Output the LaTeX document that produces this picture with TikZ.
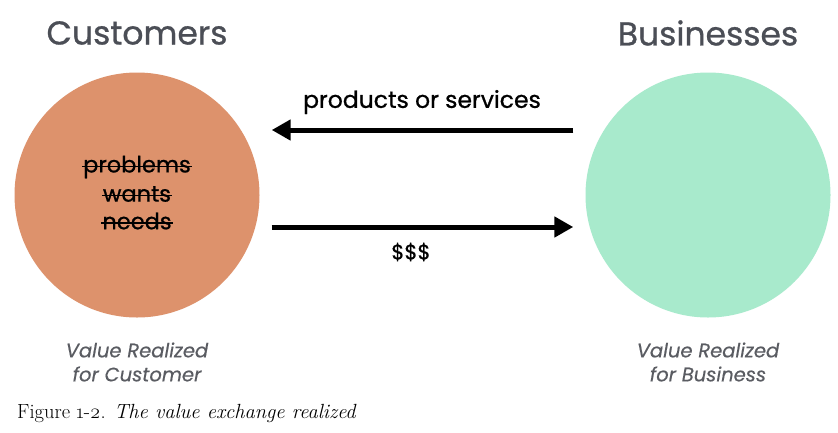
\documentclass[tikz,border=0pt]{standalone}
\usepackage{fontspec}
\setmainfont{Latin Modern Roman}
\newfontfamily\gfont[FakeBold=0.8]{Poppins}
\newfontfamily\gfontl[FakeBold=0.4]{Poppins}
\usetikzlibrary{arrows.meta}
\definecolor{custorange}{RGB}{221,146,108}
\definecolor{busgreen}{RGB}{168,234,204}
\definecolor{titlegray}{RGB}{75,78,86}
\definecolor{subgray}{RGB}{90,92,98}
\tikzset{
  bigcircle/.style={circle, minimum size=245pt, inner sep=0pt},
  title/.style={font=\gfont\fontsize{33}{36}\selectfont, text=titlegray},
  flowlabel/.style={font=\gfont\fontsize{23.5}{26}\selectfont, text=black},
  dollar/.style={font=\gfont\fontsize{21}{24}\selectfont, text=black},
  struck/.style={font=\gfont\fontsize{22.5}{24}\selectfont, text=black, inner sep=1pt},
  valuelabel/.style={font=\gfontl\itshape\fontsize{19.5}{24}\selectfont, text=subgray, align=center},
  flowarrow/.style={line width=5pt, -{Triangle[length=19pt,width=20pt]}, shorten >=12pt, shorten <=12pt},
  strike/.style={line width=1.6pt}
}
\begin{document}
\begin{tikzpicture}[x=1pt,y=-1pt]
\useasboundingbox[fill=white] (0,0) rectangle (838,432);
\node[bigcircle, fill=custorange] (cust) at (137,195) {};
\node[bigcircle, fill=busgreen] (bus) at (708,195) {};
\node[title] (tc) at (137,33) {Customers};
\node[title] (tb) at (708,33) {Businesses};
\draw[flowarrow] ([yshift=65pt]bus.west) -- ([yshift=65pt]cust.east);
\draw[flowarrow] ([yshift=-32pt]cust.east) -- ([yshift=-32pt]bus.west);
\node[flowlabel] (ps) at (422,102) {products or services};
\node[dollar] (dol) at (411,252) {\$\$\$};
\node[struck] (w1) at (137,167) {problems};
\node[struck] (w2) at (137,194) {wants};
\node[struck] (w3) at (137,221) {needs};
\foreach \w in {w1,w2,w3}{
  \draw[strike] ([yshift=6pt]\w.base west) -- ([yshift=6pt]\w.base east);
}
\node[valuelabel] (vc) at (137,362) {Value Realized\\for Customer};
\node[valuelabel] (vb) at (708,362) {Value Realized\\for Business};
\node[anchor=base west, inner sep=0pt, font=\fontsize{20.5}{24}\selectfont] (cap) at (17,418) {Figure \oldstylenums{1-2}. \textit{The value exchange realized}};
\end{tikzpicture}
\end{document}
